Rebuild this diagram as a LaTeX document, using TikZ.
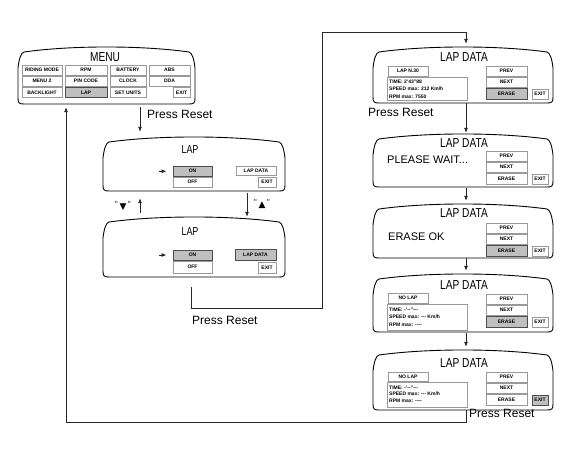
\documentclass[tikz,border=0pt]{standalone}
\usepackage{fontspec}
\setmainfont{Liberation Sans}
\newfontfamily\condfont[FakeStretch=0.78]{Liberation Sans}
\newfontfamily\symfont{DejaVu Sans}
\usetikzlibrary{arrows.meta}
\tikzset{
  scr/.style={draw=black, line width=0.9pt},
  btn/.style={draw=black!40, line width=0.6pt, fill=white, inner sep=0pt, font=\fontsize{5}{5}\selectfont\bfseries},
  sel/.style={btn, draw=black!70, line width=1pt, fill=black!25},
  ttl/.style={font=\condfont\fontsize{13}{13}\selectfont, inner sep=0pt},
  ttlsmall/.style={font=\condfont\fontsize{11.5}{11.5}\selectfont, inner sep=0pt},
  msg/.style={font=\fontsize{11}{11}\selectfont, inner sep=0pt, anchor=west},
  conn/.style={draw=black!85, line width=0.8pt},
  arr/.style={conn, -{Latex[length=5pt,width=4pt]}},
  lbl/.style={font=\fontsize{12}{12}\selectfont, inner sep=0pt, anchor=west},
  info/.style={font=\fontsize{5}{5}\selectfont\bfseries, inner sep=0pt, anchor=west},
  tri/.style={font=\symfont\fontsize{9}{9}\selectfont, inner sep=0pt},
}
% name, x1, ytop, x2, ybot
\newcommand\scrn[5]{%
  \node[inner sep=0pt, minimum width={((#4)-(#2))*1pt}, minimum height={((#5)-(#3))*1pt}] (#1) at ({((#2)+(#4))/2},{((#3)+(#5))/2}) {};
  \draw[scr] ({(#2)+6},{(#3)+5}) .. controls ({(#2)+0.3*((#4)-(#2))},{(#3)-1.7}) and ({(#4)-0.3*((#4)-(#2))},{(#3)-1.7}) .. ({(#4)-6},{(#3)+5})
    .. controls ({(#4)-3},{(#3)+5.5}) and ({(#4)-1},{(#3)+12}) .. (#4,{(#3)+21})
    -- (#4,{(#5)-6}) .. controls (#4,{(#5)-1}) and ({(#4)-1},#5) .. ({(#4)-6},#5)
    -- ({(#2)+6},#5) .. controls ({(#2)+1},#5) and (#2,{(#5)-1}) .. (#2,{(#5)-6})
    -- (#2,{(#3)+21}) .. controls ({(#2)+1},{(#3)+12}) and ({(#2)+3},{(#3)+5.5}) .. cycle;
}
% name, style, x1, y1, x2, y2, text
\newcommand\mkbtn[7]{%
  \node[#2, minimum width={((#5)-(#3))*1pt}, minimum height={((#6)-(#4))*1pt}] (#1) at ({((#3)+(#5))/2},{((#4)+(#6))/2}) {#7};
}
% prefix, y of PREV top, erase style, exit style
\newcommand\ldbtns[4]{%
  \mkbtn{#1prev}{btn}{486}{#2}{527}{(#2)+10}{PREV}
  \mkbtn{#1next}{btn}{486}{(#2)+11}{527}{(#2)+21}{NEXT}
  \mkbtn{#1erase}{#3}{486}{(#2)+22}{527}{(#2)+33}{ERASE}
  \mkbtn{#1exit}{#4}{532}{(#2)+23}{548}{(#2)+33}{EXIT}
}
\newcommand\qmark{\raisebox{2.5pt}{\fontsize{7}{7}\selectfont"}}
\begin{document}
\begin{tikzpicture}[x=1pt,y=-1pt]
\useasboundingbox (0,0) rectangle (573,459);

% ---------- MENU ----------
\scrn{menu}{18}{47}{195}{104}
\node[ttl] (menuT) at (105,57) {MENU};
\mkbtn{mRiding}{btn}{22}{65.5}{62}{75}{RIDING MODE}
\mkbtn{mRpm}{btn}{65}{65.5}{107}{75}{RPM}
\mkbtn{mBatt}{btn}{110}{65.5}{146}{75}{BATTERY}
\mkbtn{mAbs}{btn}{149}{65.5}{190}{75}{ABS}
\mkbtn{mMenu}{btn}{22}{76.5}{62}{86}{MENU 2}
\mkbtn{mPin}{btn}{65}{76.5}{107}{86}{PIN CODE}
\mkbtn{mClock}{btn}{110}{76.5}{146}{86}{CLOCK}
\mkbtn{mDda}{btn}{149}{76.5}{190}{86}{DDA}
\mkbtn{mBack}{btn}{22}{87.5}{62}{97.5}{BACKLIGHT}
\mkbtn{mLap}{sel}{65}{87.5}{107}{97.5}{LAP}
\mkbtn{mSet}{btn}{110}{87.5}{146}{97.5}{SET UNITS}
\mkbtn{mExit}{btn}{173}{87.5}{190}{97.5}{EXIT}

% ---------- LAP 1 ----------
\scrn{lap1}{103}{137}{285}{191}
\node[ttlsmall] (lap1T) at (190,150) {LAP};
\mkbtn{lap1on}{sel}{173}{166}{212}{176.5}{ON}
\mkbtn{lap1off}{btn}{173}{177}{212}{187.5}{OFF}
\mkbtn{lap1ld}{btn}{236}{166}{276}{175.5}{LAP DATA}
\mkbtn{lap1exit}{btn}{258}{177}{276}{187.5}{EXIT}
\draw[arr] ([xshift=-14pt]lap1on.west) -- ([xshift=-6pt]lap1on.west);

% ---------- LAP 2 ----------
\scrn{lap2}{103}{217}{285}{277}
\node[ttlsmall] (lap2T) at (190,232) {LAP};
\mkbtn{lap2on}{sel}{173}{250}{212}{260}{ON}
\mkbtn{lap2off}{btn}{173}{261}{212}{273}{OFF}
\mkbtn{lap2ld}{sel}{235}{249}{276}{260}{LAP DATA}
\mkbtn{lap2exit}{btn}{258}{262}{276}{273}{EXIT}
\draw[arr] ([xshift=-14pt]lap2on.west) -- ([xshift=-6pt]lap2on.west);

\node[tri] (dnT) at (123,206) {\qmark\,▼\,\qmark};
\node[tri] (upT) at (262,204) {\qmark\,▲\,\qmark};

% ---------- LAP DATA 1 ----------
\scrn{ld1}{373}{47}{553}{103}
\node[ttl] (ld1T) at (464,57) {LAP DATA};
\mkbtn{ld1lap}{btn}{388}{66}{428}{76}{LAP N.30}
\node[draw=black!40, line width=0.6pt, inner sep=0pt, minimum width=80pt, minimum height=23pt, anchor=north west] (ld1info) at (387,77) {};
\node[info] (ld1a) at (389,82) {TIME: 2'43"88};
\node[info] (ld1b) at (389,89) {SPEED max: 212 Km/h};
\node[info] (ld1c) at (389,96.5) {RPM max: 7550};
\ldbtns{ld1}{66}{sel}{btn}

% ---------- LAP DATA 2 ----------
\scrn{ld2}{373}{134}{553}{187}
\node[ttl] (ld2T) at (464,143.5) {LAP DATA};
\node[msg] (ld2m) at (387,160) {PLEASE WAIT...};
\ldbtns{ld2}{151}{btn}{btn}

% ---------- LAP DATA 3 ----------
\scrn{ld3}{373}{204}{553}{258}
\node[ttl] (ld3T) at (464,213.5) {LAP DATA};
\node[msg] (ld3m) at (388,237) {ERASE OK};
\ldbtns{ld3}{223}{sel}{btn}

% ---------- LAP DATA 4 ----------
\scrn{ld4}{373}{274}{553}{332}
\node[ttl] (ld4T) at (464,285) {LAP DATA};
\mkbtn{ld4lap}{btn}{388}{293}{428}{303}{NO LAP}
\node[draw=black!40, line width=0.6pt, inner sep=0pt, minimum width=80pt, minimum height=26pt, anchor=north west] (ld4info) at (387,304) {};
\node[info] (ld4a) at (389,309.5) {TIME: -'-{}-"-{}-{}-};
\node[info] (ld4b) at (389,317) {SPEED max: -{}-{}- Km/h};
\node[info] (ld4c) at (389,324.5) {RPM max: -{}-{}-{}-};
\ldbtns{ld4}{294}{sel}{btn}

% ---------- LAP DATA 5 ----------
\scrn{ld5}{373}{350}{553}{410}
\node[ttl] (ld5T) at (464,363.5) {LAP DATA};
\mkbtn{ld5lap}{btn}{388}{372}{428}{381}{NO LAP}
\node[draw=black!40, line width=0.6pt, inner sep=0pt, minimum width=80pt, minimum height=25pt, anchor=north west] (ld5info) at (387,382) {};
\node[info] (ld5a) at (389,387.5) {TIME: -'-{}-"-{}-{}-};
\node[info] (ld5b) at (389,394) {SPEED max: -{}-{}- Km/h};
\node[info] (ld5c) at (389,401) {RPM max: -{}-{}-{}-};
\ldbtns{ld5}{372}{btn}{sel}

% ---------- labels ----------
\node[lbl] (pr1) at (147,114) {Press Reset};
\node[lbl] (pr2) at (192,320) {Press Reset};
\node[lbl] (pr3) at (368,112) {Press Reset};
\node[lbl] (pr4) at (469,413) {Press Reset};

% ---------- connectors ----------
\coordinate (m1) at (140,0);
\coordinate (m2) at (247,0);
\draw[arr, shorten <=3pt, shorten >=5pt] (menu.south -| m1) -- (lap1.north -| m1);
\draw[arr, shorten <=4pt, shorten >=7pt] (lap2.north -| m1) -- (lap1.south -| m1);
\draw[arr, shorten <=2pt, shorten >=0pt] (lap1.south -| m2) -- (lap2.north -| m2);

\coordinate (k1) at (191,308);
\coordinate (k2) at (322,308);
\coordinate (k3) at (322,32);
\coordinate (k4) at (466,32);
\draw[arr, shorten <=10pt, shorten >=3pt] (lap2.south -| k1) -- (k1) -- (k2) -- (k3) -- (k4) -- (ld1.north -| k4);

\draw[arr, shorten >=1pt] (ld1.south -| k4) -- (ld2.north -| k4);
\draw[arr, shorten <=1pt, shorten >=3pt] (ld2.south -| k4) -- (ld3.north -| k4);
\draw[arr, shorten >=3pt] (ld3.south -| k4) -- (ld4.north -| k4);
\draw[arr, shorten <=1pt, shorten >=3pt] (ld4.south -| k4) -- (ld5.north -| k4);

\coordinate (k5) at (466,422);
\coordinate (k6) at (66,422);
\draw[arr, shorten >=3pt] (ld5.south -| k5) -- (k5) -- (k6) -- (menu.south -| k6);
\end{tikzpicture}
\end{document}
